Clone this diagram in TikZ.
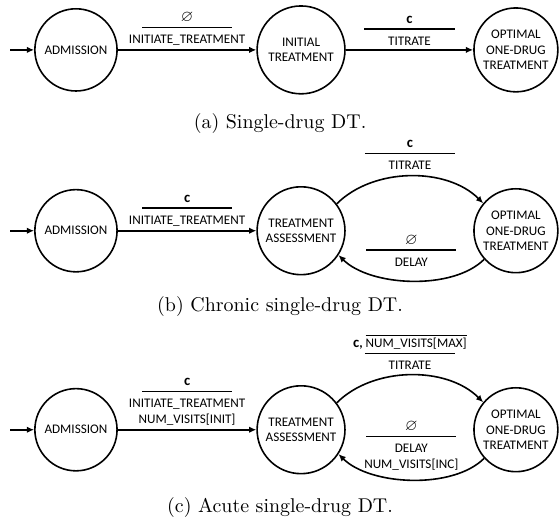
\documentclass[tikz,border=0pt]{standalone}
\usepackage{amssymb}
\usepackage{fontspec}
\newfontfamily\calib{Carlito}
\usetikzlibrary{arrows.meta}

% guarda / ação de uma transição
\newcommand{\guarda}[2]{#1\\[-4.6pt]\rule{1.59cm}{0.6pt}\\#2}
\newcommand{\vazio}{{\fontsize{8}{8}\selectfont$\varnothing$}}
\newcommand{\cond}{{\bfseries\fontsize{7.4}{7.4}\selectfont c}}

\begin{document}
\begin{tikzpicture}[>={Latex[length=3.6pt,width=3.2pt]}, line width=0.8pt]

    % estilos
    \tikzstyle{estado}=[circle, draw, minimum size=1.45cm, inner sep=1pt, align=center, font=\calib\fontsize{6.6}{7.8}\selectfont]
    \tikzstyle{rotulo}=[align=center, inner sep=0.5pt, font=\calib\fontsize{6.6}{7.8}\selectfont]
    \tikzstyle{legenda}=[font=\fontsize{10}{12}\selectfont]
    \tikzstyle{trans}=[->]

    \useasboundingbox (0,0) rectangle (9.86,9.17);

    % (a) tratamento com um fármaco
    \coordinate (in1) at (0.18,8.29);
    \node[estado] (adm1) at (1.34,8.29) {ADMISSION};
    \node[estado, minimum size=1.55cm] (ini1) at (5.31,8.29) {INITIAL\\TREATMENT};
    \node[estado, minimum size=1.48cm] (opt1) at (9.10,8.29) {OPTIMAL\\ONE-DRUG\\TREATMENT};

    \draw[trans] (in1) -- (adm1);
    \draw[trans] (adm1) -- node[rotulo, above=1.5pt] {\guarda{\vazio}{INITIATE\_TREATMENT}} (ini1);
    \draw[trans] (ini1) -- node[rotulo, above=1.5pt] {\guarda{\cond}{TITRATE}} (opt1);

    \node[legenda] (capa) at (4.94,6.99) {(a) Single-drug DT.};

    % (b) crônico
    \coordinate (in2) at (0.18,5.10);
    \node[estado] (adm2) at (1.34,5.10) {ADMISSION};
    \node[estado, minimum size=1.55cm] (ava2) at (5.31,5.10) {TREATMENT\\ASSESSMENT};
    \node[estado, minimum size=1.48cm] (opt2) at (9.10,5.10) {OPTIMAL\\ONE-DRUG\\TREATMENT};

    \draw[trans] (in2) -- (adm2);
    \draw[trans] (adm2) -- node[rotulo, above=1.5pt] {\guarda{\cond}{INITIATE\_TREATMENT}} (ava2);
    \draw[trans] (ava2.37) to[out=45, in=135, looseness=0.9]
        node[rotulo, above=2.5pt] {\guarda{\cond}{TITRATE}} (opt2.140);
    \draw[trans] (opt2.222) to[out=225, in=-45, looseness=0.78]
        node[rotulo, above=6.5pt] {\guarda{\vazio}{DELAY}} (ava2.-33);

    \node[legenda] (capb) at (4.94,3.77) {(b) Chronic single-drug DT.};

    % (c) agudo
    \coordinate (in3) at (0.18,1.59);
    \node[estado] (adm3) at (1.34,1.59) {ADMISSION};
    \node[estado, minimum size=1.55cm] (ava3) at (5.31,1.59) {TREATMENT\\ASSESSMENT};
    \node[estado, minimum size=1.48cm] (opt3) at (9.10,1.59) {OPTIMAL\\ONE-DRUG\\TREATMENT};

    \draw[trans] (in3) -- (adm3);
    \draw[trans] (adm3) -- node[rotulo, above=1.5pt] {\guarda{\cond}{INITIATE\_TREATMENT\\NUM\_VISITS[INIT]}} (ava3);
    \draw[trans] (ava3.37) to[out=45, in=135, looseness=0.9]
        node[rotulo, above=2pt] {\guarda{\cond\textbf{,} $\overline{\mbox{NUM\_VISITS[MAX]}}$}{TITRATE}} (opt3.140);
    \draw[trans] (opt3.222) to[out=225, in=-45, looseness=0.78]
        node[rotulo, above=4pt] {\guarda{\vazio}{DELAY\\NUM\_VISITS[INC]}} (ava3.-33);

    \node[legenda] (capc) at (4.94,0.22) {(c) Acute single-drug DT.};

\end{tikzpicture}
\end{document}
